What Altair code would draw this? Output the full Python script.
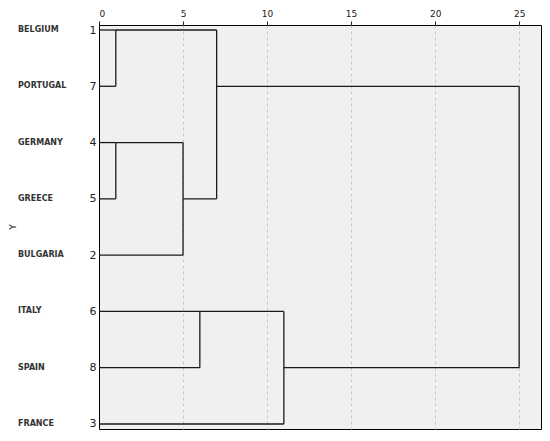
import altair as alt
import pandas as pd

# Leaves in dendrogram order (top to bottom)
countries = ["BELGIUM", "PORTUGAL", "GERMANY", "GREECE", "BULGARIA", "ITALY", "SPAIN", "FRANCE"]
case_ids = [1, 7, 4, 5, 2, 6, 8, 3]

# Agglomeration schedule: clusters 0..7 are leaves, merges create 8, 9, ...
merge_a = [0, 2, 9, 5, 8, 11, 12]
merge_b = [1, 3, 4, 6, 10, 7, 13]
merge_h = [1, 1, 5, 6, 7, 11, 25]

x_ticks = [0, 5, 10, 15, 20, 25]

# Build segment table from the schedule
pos = {i: float(i) for i in range(len(countries))}
hgt = {i: 0.0 for i in range(len(countries))}
segs = []
for k, (a, b, h) in enumerate(zip(merge_a, merge_b, merge_h)):
    nid = len(countries) + k
    ya, yb = pos[a], pos[b]
    segs.append({"x": hgt[a], "x2": h, "y": ya, "y2": ya})
    segs.append({"x": hgt[b], "x2": h, "y": yb, "y2": yb})
    segs.append({"x": h, "x2": h, "y": ya, "y2": yb})
    pos[nid] = float(int((ya + yb) / 2))
    hgt[nid] = h
seg_df = pd.DataFrame(segs)

lab_df = pd.DataFrame({"row": list(range(len(countries))), "country": countries})

xscale = alt.Scale(domain=[0, 26.3], nice=False, zero=False)
yscale = alt.Scale(domain=[-0.089, 7.089], nice=False, zero=False, reverse=True)

label_expr = "[" + ",".join("'%d'" % c for c in case_ids) + "][datum.value]"

lines = alt.Chart(seg_df).mark_rule(color="#1a1a1a", strokeWidth=1.3).encode(
    x=alt.X("x:Q", scale=xscale,
            axis=alt.Axis(orient="top", values=x_ticks, title=None, tickSize=4,
                          tickColor="#222", labelFontSize=9, labelColor="#222",
                          labelPadding=3, domain=False, grid=True,
                          gridDash=[3, 3], gridColor="#c8c8c8", gridWidth=1,
                          gridOpacity=alt.condition("datum.value == 0", alt.value(0), alt.value(1)),
                          labelFont="DejaVu Sans")),
    x2="x2:Q",
    y=alt.Y("y:Q", scale=yscale,
            axis=alt.Axis(values=list(range(len(countries))), labelExpr=label_expr,
                          grid=False, ticks=False, domain=False, labelFontSize=11,
                          labelColor="#222", labelPadding=3, title=None,
                          labelFont="DejaVu Sans")),
    y2="y2:Q",
)

labels = alt.Chart(lab_df).mark_text(align="left", baseline="middle", fontSize=8,
                                     fontWeight="bold", font="DejaVu Sans",
                                     color="#333").encode(
    x=alt.value(-81),
    y=alt.Y("row:Q", scale=yscale),
    text="country:N",
)

ytitle = alt.Chart(pd.DataFrame({"t": ["Y"]})).mark_text(
    angle=270, fontSize=9, font="DejaVu Sans", color="#222",
    align="center", baseline="middle").encode(
    x=alt.value(-86), y=alt.value(202), text="t:N")

chart = alt.layer(lines, labels, ytitle).properties(
    width=442, height=404,
    autosize=alt.AutoSizeParams(type="none"),
    padding={"left": 91, "top": 17, "right": 1, "bottom": 4},
).configure_view(fill="#f0f0f0", stroke="black", strokeWidth=1)

chart.save("out.html", embed_options={"renderer": "svg", "actions": False})
